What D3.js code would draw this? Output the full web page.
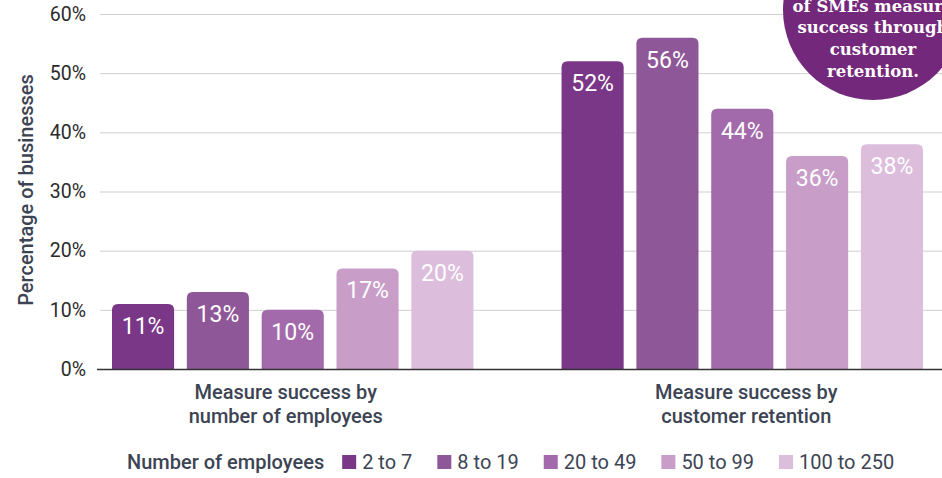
<!DOCTYPE html>
<html>
<head>
<meta charset="utf-8">
<script src="https://cdn.jsdelivr.net/npm/d3@7"></script>
<style>
  body { margin: 0; background: #fff; }
  svg { display: block; font-family: Roboto, "Noto Sans", sans-serif; }
</style>
</head>
<body>
<svg id="chart" width="942" height="478"></svg>
<script>
// データ
const groups = [
    ["Measure success by", "number of employees"],
    ["Measure success by", "customer retention"]
];
const series = ["2 to 7", "8 to 19", "20 to 49", "50 to 99", "100 to 250"];
const byEmployees = [11, 13, 10, 17, 20];
const byRetention = [52, 56, 44, 36, 38];
const yTicks = [0, 10, 20, 30, 40, 50, 60];
const colors = ["#7a3787", "#8e5898", "#a36aab", "#c89ec9", "#dcbddc"];
const badgeLines = ["of SMEs measure", "success through", "customer", "retention."];

const values = [byEmployees, byRetention];

const width = 942;
const textColor = "#3c4454";
const svg = d3.select("#chart");

// スケール
const y = d3.scaleLinear().domain([0, 60]).range([369, 14]);
const x0 = d3.scaleBand().domain(d3.range(groups.length)).range([112, 923]).paddingInner(0.196).paddingOuter(0);
const x1 = d3.scaleBand().domain(series).range([0, x0.bandwidth()]).paddingInner(0.17);
const color = d3.scaleOrdinal().domain(series).range(colors);

// グリッド線
svg.append("g")
    .selectAll("line")
    .data(yTicks.filter((d) => d > 0))
    .enter()
    .append("line")
    .attr("x1", 100)
    .attr("x2", width)
    .attr("y1", (d) => y(d) + 0.5)
    .attr("y2", (d) => y(d) + 0.5)
    .attr("stroke", "#cfcfcf")
    .attr("stroke-width", 1);

// Y軸ラベル
svg.append("g")
    .selectAll("text")
    .data(yTicks)
    .enter()
    .append("text")
    .attr("x", 86)
    .attr("y", (d) => y(d))
    .attr("dy", "0.35em")
    .attr("text-anchor", "end")
    .attr("font-size", 19.5)
    .attr("fill", "#2b2b2b")
    .text((d) => d + "%");

svg.append("text")
    .attr("transform", "translate(26,190) rotate(-90)")
    .attr("dy", "0.35em")
    .attr("text-anchor", "middle")
    .attr("font-size", 20)
    .attr("font-weight", 500)
    .attr("fill", textColor)
    .text("Percentage of businesses");

// 上の角だけ丸いバー
function topRounded(x, yTop, w, h, r) {
    r = Math.min(r, h, w / 2);
    return `M${x},${yTop + h}V${yTop + r}Q${x},${yTop} ${x + r},${yTop}H${x + w - r}Q${x + w},${yTop} ${x + w},${yTop + r}V${yTop + h}Z`;
}

const group = svg.append("g")
    .selectAll("g")
    .data(values)
    .enter()
    .append("g")
    .attr("transform", (d, i) => `translate(${x0(i)},0)`);

group.selectAll("path")
    .data((d) => d.map((v, j) => ({ key: series[j], value: v })))
    .enter()
    .append("path")
    .attr("d", (d) => topRounded(x1(d.key), y(d.value), x1.bandwidth(), y(0) - y(d.value), 6))
    .attr("fill", (d) => color(d.key));

group.selectAll("text")
    .data((d) => d.map((v, j) => ({ key: series[j], value: v })))
    .enter()
    .append("text")
    .attr("x", (d) => x1(d.key) + x1.bandwidth() / 2)
    .attr("y", (d) => y(d.value) + 22)
    .attr("dy", "0.35em")
    .attr("text-anchor", "middle")
    .attr("font-size", 23)
    .attr("fill", "#fff")
    .text((d) => d.value + "%");

// ベースライン
svg.append("line")
    .attr("x1", 97)
    .attr("x2", width)
    .attr("y1", y(0) + 0.5)
    .attr("y2", y(0) + 0.5)
    .attr("stroke", "#333")
    .attr("stroke-width", 1.5);

// カテゴリラベル
const catShift = [-7, 4];
const catLabel = svg.append("g")
    .selectAll("text")
    .data(groups)
    .enter()
    .append("text")
    .attr("x", (d, i) => x0(i) + x0.bandwidth() / 2 + catShift[i])
    .attr("y", 392)
    .attr("text-anchor", "middle")
    .attr("font-size", 20)
    .attr("font-weight", 500)
    .attr("fill", textColor);
catLabel.selectAll("tspan")
    .data((d) => d)
    .enter()
    .append("tspan")
    .attr("x", function () { return d3.select(this.parentNode).attr("x"); })
    .attr("dy", (d, i) => (i === 0 ? "0.35em" : 24))
    .text((d) => d);

// 凡例
const legend = svg.append("g").attr("transform", "translate(127,462)");
const legendTitle = legend.append("text")
    .attr("dy", "0.35em")
    .attr("font-size", 20)
    .attr("font-weight", 500)
    .attr("fill", textColor)
    .text("Number of employees");
let lx = legendTitle.node().getComputedTextLength() + 18;
series.forEach((s) => {
    legend.append("rect")
        .attr("x", lx)
        .attr("y", -7)
        .attr("width", 14)
        .attr("height", 14)
        .attr("fill", color(s));
    const t = legend.append("text")
        .attr("x", lx + 20)
        .attr("dy", "0.35em")
        .attr("font-size", 20)
        .attr("fill", textColor)
        .text(s);
    lx += 20 + t.node().getComputedTextLength() + 25;
});

// 右上の丸いバッジ
const badge = svg.append("g");
badge.append("circle")
    .attr("cx", 873)
    .attr("cy", 10)
    .attr("r", 90)
    .attr("fill", "#74287b");
badge.selectAll("text")
    .data(badgeLines)
    .enter()
    .append("text")
    .attr("x", 873)
    .attr("y", (d, i) => 6 + i * 21.7)
    .attr("dy", "0.35em")
    .attr("text-anchor", "middle")
    .attr("font-family", "'DejaVu Serif', serif")
    .attr("font-weight", "bold")
    .attr("font-size", 16.5)
    .attr("fill", "#fff")
    .text((d) => d);
</script>
</body>
</html>
